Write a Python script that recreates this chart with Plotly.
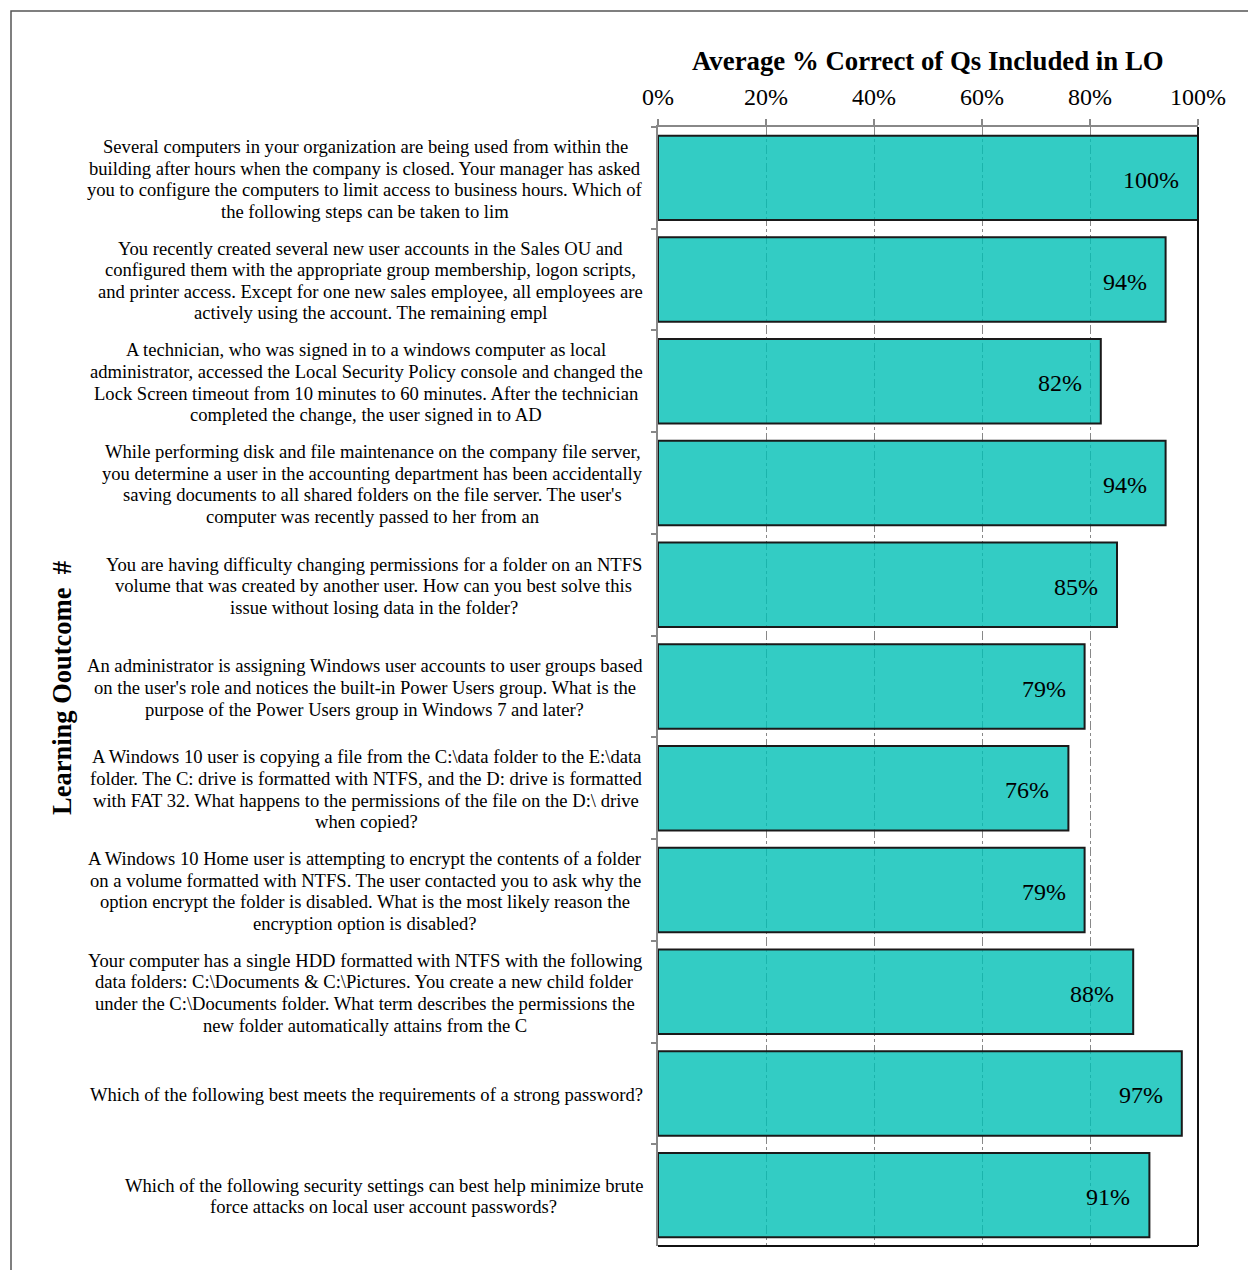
import plotly.graph_objects as go

# Learning outcome questions (top to bottom) and the average % correct for each
questions = [
    "Several computers in your organization are being used from within the<br>building after hours when the company is closed. Your manager has asked<br>you to configure the computers to limit access to business hours. Which of<br>the following steps can be taken to lim",
    "You recently created several new user accounts in the Sales OU and<br>configured them with the appropriate group membership, logon scripts,<br>and printer access. Except for one new sales employee, all employees are<br>actively using the account. The remaining empl",
    "A technician, who was signed in to a windows computer as local<br>administrator, accessed the Local Security Policy console and changed the<br>Lock Screen timeout from 10 minutes to 60 minutes. After the technician<br>completed the change, the user signed in to AD",
    "While performing disk and file maintenance on the company file server,<br>you determine a user in the accounting department has been accidentally<br>saving documents to all shared folders on the file server. The user's<br>computer was recently passed to her from an",
    "You are having difficulty changing permissions for a folder on an NTFS<br>volume that was created by another user. How can you best solve this<br>issue without losing data in the folder?",
    "An administrator is assigning Windows user accounts to user groups based<br>on the user's role and notices the built-in Power Users group. What is the<br>purpose of the Power Users group in Windows 7 and later?",
    "A Windows 10 user is copying a file from the C:\\data folder to the E:\\data<br>folder. The C: drive is formatted with NTFS, and the D: drive is formatted<br>with FAT 32. What happens to the permissions of the file on the D:\\ drive<br>when copied?",
    "A Windows 10 Home user is attempting to encrypt the contents of a folder<br>on a volume formatted with NTFS. The user contacted you to ask why the<br>option encrypt the folder is disabled. What is the most likely reason the<br>encryption option is disabled?",
    "Your computer has a single HDD formatted with NTFS with the following<br>data folders: C:\\Documents & C:\\Pictures. You create a new child folder<br>under the C:\\Documents folder. What term describes the permissions the<br>new folder automatically attains from the C",
    "Which of the following best meets the requirements of a strong password?",
    "Which of the following security settings can best help minimize brute<br>force attacks on local user account passwords?",
]
pct_correct = [100, 94, 82, 94, 85, 79, 76, 79, 88, 97, 91]

x_ticks = [0, 20, 40, 60, 80, 100]
x_tick_labels = ["0%", "20%", "40%", "60%", "80%", "100%"]

x_title = "Average % Correct of Qs Included in LO"
y_title = "Learning Ooutcome \u00a0#"

SERIF = "Liberation Serif, Times New Roman, serif"
W, H = 1248, 1270
L, R, T, B = 658, 50, 127, 24
plot_w = W - L - R
plot_h = H - T - B
LABEL_SIZE = 18.6
LINE_STEP = 21.6
LABEL_RIGHT = 643  # right edge of the question text blocks (px)

# Times-compatible advance widths (per 1000 em) used to centre each text block
_W = {" ": 250, "!": 333, "'": 180, "(": 333, ")": 333, ",": 250, "-": 333,
      ".": 250, "/": 278, ":": 278, ";": 278, "?": 444, "&": 778, "\\": 278,
      "%": 833, "A": 722, "B": 667, "C": 667, "D": 722, "E": 611, "F": 556,
      "G": 722, "H": 722, "I": 333, "J": 389, "K": 722, "L": 611, "M": 889,
      "N": 722, "O": 722, "P": 556, "Q": 722, "R": 667, "S": 556, "T": 611,
      "U": 722, "V": 722, "W": 944, "X": 722, "Y": 722, "Z": 611,
      "a": 444, "b": 500, "c": 444, "d": 500, "e": 444, "f": 333, "g": 500,
      "h": 500, "i": 278, "j": 278, "k": 500, "l": 278, "m": 778, "n": 500,
      "o": 500, "p": 500, "q": 500, "r": 333, "s": 389, "t": 278, "u": 500,
      "v": 500, "w": 722, "x": 500, "y": 500, "z": 444}


def text_width(s, size):
    return sum(_W.get(c, 500) for c in s) * size / 1000


def px_x(px):
    return (px - L) / plot_w


def px_y(py):
    return 1 - (py - T) / plot_h


fig = go.Figure()
# slightly translucent fill so the dash-dot grid shows through the bars
fig.add_trace(go.Bar(
    x=pct_correct,
    y=questions,
    orientation="h",
    marker=dict(color="rgba(0,191,181,0.8)",
                line=dict(color="#1a1a1a", width=2)),
    hoverinfo="skip",
))

annotations = []
# question text beside each bar: centre-aligned lines, block right-aligned
for q in questions:
    lines = q.split("<br>")
    n = len(lines)
    block_w = max(text_width(s, LABEL_SIZE) for s in lines)
    cx = px_x(LABEL_RIGHT - block_w / 2)
    for i, line in enumerate(lines):
        annotations.append(dict(
            x=cx, xref="paper", y=q, yref="y",
            text=line.replace("&", "&amp;"), showarrow=False,
            xanchor="center", yanchor="middle",
            yshift=((n - 1) / 2 - i) * LINE_STEP - 1,
            font=dict(family=SERIF, size=LABEL_SIZE, color="#000"),
        ))
# value labels inside the bar ends
for q, v in zip(questions, pct_correct):
    annotations.append(dict(
        x=v, xref="x", y=q, yref="y", text=f"{v}%", showarrow=False,
        xanchor="right", yanchor="middle", xshift=-17, yshift=-2,
        font=dict(family=SERIF, size=24, color="#000"),
    ))
annotations.append(dict(
    x=0.5, xref="paper", y=px_y(61), yref="paper", text=f"<b>{x_title}</b>",
    showarrow=False, xanchor="center", yanchor="middle",
    font=dict(family=SERIF, size=26.8, color="#000"),
))
annotations.append(dict(
    x=px_x(62), xref="paper", y=px_y(688), yref="paper", text=f"<b>{y_title}</b>",
    showarrow=False, xanchor="center", yanchor="middle", textangle=-90,
    font=dict(family=SERIF, size=26.5, color="#000"),
))

shapes = [
    # outer chart frame
    dict(type="rect", xref="paper", yref="paper",
         x0=px_x(11), x1=px_x(1300), y0=px_y(1320), y1=px_y(11),
         line=dict(color="#555", width=1.5), layer="below"),
    # dark right and bottom plot borders
    dict(type="line", xref="paper", yref="paper", x0=1, x1=1, y0=0, y1=1,
         line=dict(color="#111", width=2)),
    dict(type="line", xref="paper", yref="paper", x0=0, x1=1, y0=0, y1=0,
         line=dict(color="#111", width=2)),
]

fig.update_layout(
    width=W, height=H,
    margin=dict(l=L, r=R, t=T, b=B),
    paper_bgcolor="white", plot_bgcolor="white",
    showlegend=False,
    bargap=0.17,
    annotations=annotations,
    shapes=shapes,
    xaxis=dict(
        side="top", range=[0, 100], tickvals=x_ticks, ticktext=x_tick_labels,
        ticks="outside", ticklen=6, tickcolor="#888", tickwidth=1.5,
        tickfont=dict(family=SERIF, size=24, color="#000"),
        ticklabelstandoff=4,
        showline=True, linecolor="#888", linewidth=2,
        showgrid=True, gridcolor="#888", griddash="dashdot", gridwidth=1,
        zeroline=False, fixedrange=True,
    ),
    yaxis=dict(
        autorange="reversed", showticklabels=False,
        ticks="outside", tickson="boundaries", ticklen=5, tickcolor="#888",
        tickwidth=1.5, showline=True, linecolor="#888", linewidth=2,
        showgrid=False, zeroline=False, fixedrange=True,
    ),
)

fig.write_html("out.html")
